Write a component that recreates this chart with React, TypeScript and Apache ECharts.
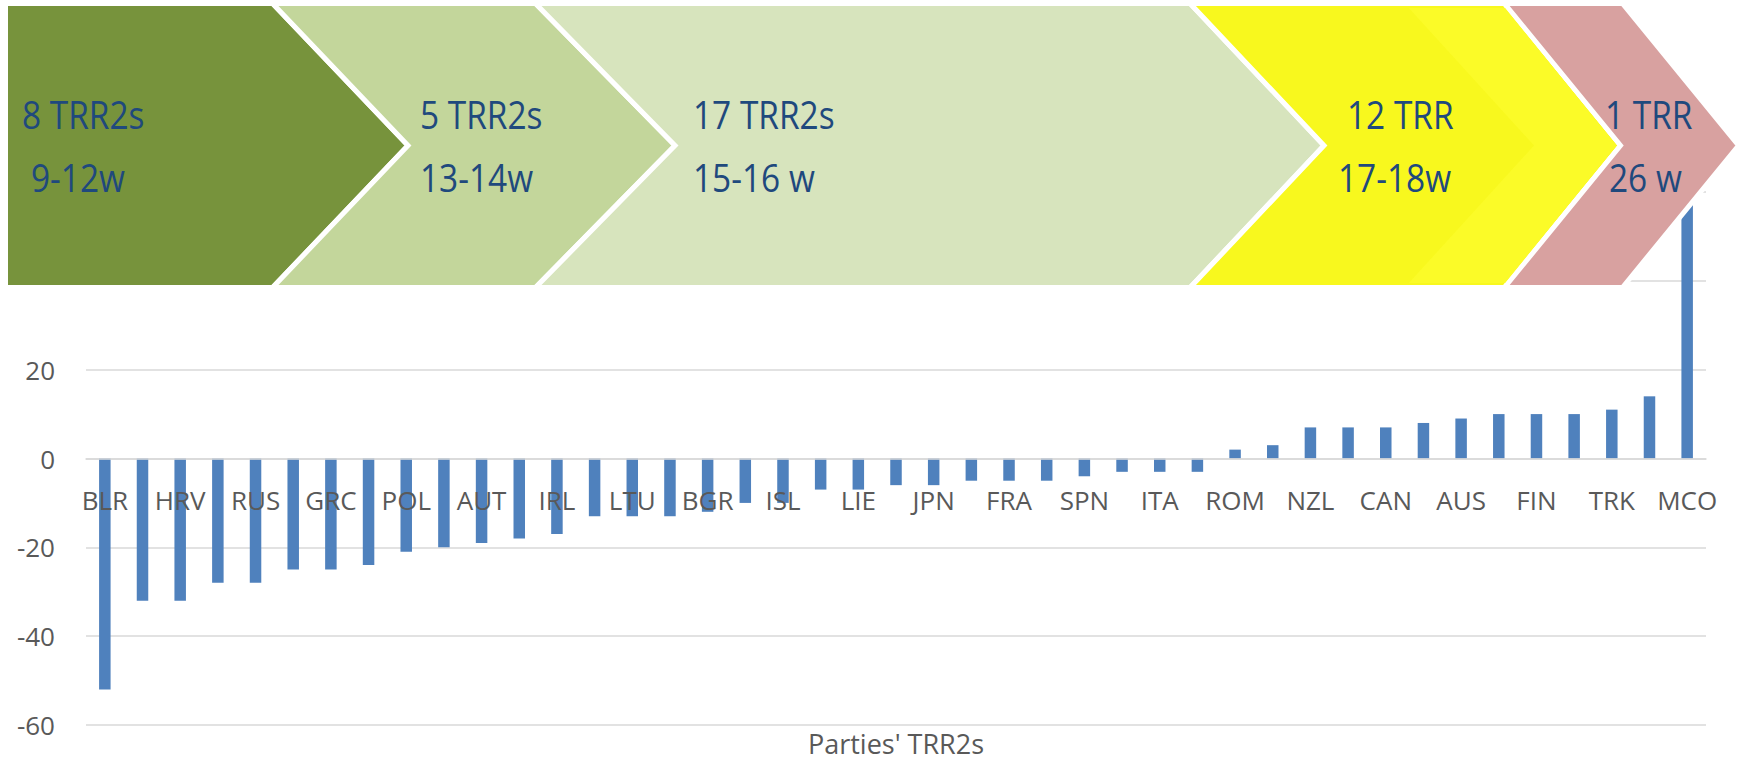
import React, { useEffect, useRef } from "react";
import * as echarts from "echarts";

// ---- data ----
const categories = [
  "BLR", "", "HRV", "", "RUS", "", "GRC", "", "POL", "", "AUT", "", "IRL", "", "LTU", "",
  "BGR", "", "ISL", "", "LIE", "", "JPN", "", "FRA", "", "SPN", "", "ITA", "", "ROM", "",
  "NZL", "", "CAN", "", "AUS", "", "FIN", "", "TRK", "", "MCO",
];
const values = [
  -52, -32, -32, -28, -28, -25, -25, -24, -21, -20, -19, -18, -17, -13, -13, -13,
  -12, -10, -10, -7, -7, -6, -6, -5, -5, -5, -4, -3, -3, -3, 2, 3,
  7, 7, 7, 8, 9, 10, 10, 10, 11, 14, 60,
];
const yMin = -60;
const yMax = 60;
const yStep = 20;
const axisTitle = "Parties' TRR2s";
const stageCounts = ["8 TRR2s", "5 TRR2s", "17 TRR2s", "12 TRR", "1 TRR"];
const stageWeeks = ["9-12w", "13-14w", "15-16 w", "17-18w", "26 w"];

// ---- layout ----
const W = 1741;
const H = 763;
const GRID = { left: 86, right: 35, top: 192, bottom: 38 };
const T = 3.5;
const B = 287.5;
const M = 145.5;
// boundaries: [x at y=6, x at tip]
const bounds: [number, number][] = [
  [275, 408],
  [538, 675],
  [1192.5, 1324],
  [1506.5, 1620.5],
  [1624.5, 1738.5],
];
const stageColors = ["#77933c", "#c3d69b", "#d7e4bd", "#f8f81e", "#d8a1a0"];
const textPos = [
  [22, 31],
  [420, 420],
  [693, 693],
  [1347, 1338],
  [1605, 1609],
];

function bx(b: [number, number], y: number) {
  const [top6, tip] = b;
  return tip - ((tip - top6) * Math.abs(y - M)) / (M - 6);
}

function buildGraphics() {
  const els: any[] = [];
  for (let i = 0; i < 5; i++) {
    const r = bounds[i];
    const pts: number[][] = [];
    if (i === 0) {
      pts.push([5.5, T], [bx(r, T), T], [r[1], M], [bx(r, B), B], [5.5, B]);
    } else {
      const l = bounds[i - 1];
      pts.push([bx(l, T), T], [bx(r, T), T], [r[1], M], [bx(r, B), B], [bx(l, B), B], [l[1], M]);
    }
    els.push({
      type: "polygon",
      z: 100,
      shape: { points: pts },
      style: { fill: stageColors[i], stroke: "#ffffff", lineWidth: 5 },
    });
    if (i === 3) {
      const inner: [number, number] = [1407, 1534];
      const r2 = bounds[3];
      els.push({
        type: "polygon",
        z: 101,
        shape: {
          points: [
            [bx(inner, 8), 8], [bx(r2, 8) - 3, 8], [r2[1] - 4, M],
            [bx(r2, 283) - 3, 283], [bx(inner, 283), 283], [inner[1], M],
          ],
        },
        style: { fill: "#fbfb28" },
      });
    }
  }
  const font = "'Open Sans', sans-serif";
  for (let i = 0; i < 5; i++) {
    const rows: [string, number, number][] = [
      [stageCounts[i], textPos[i][0], 114],
      [stageWeeks[i], textPos[i][1], 177],
    ];
    rows.forEach(([t, x, y]) => {
      els.push({
        type: "text",
        z: 110,
        x,
        y,
        scaleX: 0.88,
        style: {
          text: t,
          fill: "#1f497d",
          fontSize: 38,
          fontFamily: font,
          textVerticalAlign: "middle",
          verticalAlign: "middle",
        },
      });
    });
  }
  els.push({
    type: "text",
    z: 110,
    x: 896,
    y: 743,
    style: {
      text: axisTitle,
      fill: "#595959",
      fontSize: 27,
      fontFamily: "'Open Sans', sans-serif",
      textAlign: "center",
      align: "center",
      textVerticalAlign: "middle",
      verticalAlign: "middle",
    },
  });
  return els;
}

export default function App() {
  const ref = useRef<HTMLDivElement>(null);
  useEffect(() => {
    if (!ref.current) return;
    const chart = echarts.init(ref.current, undefined, { renderer: "svg" });
    const plotH = H - GRID.top - GRID.bottom;
    const zeroOffset = (plotH * (0 - yMin)) / (yMax - yMin);
    chart.setOption({
      animation: false,
      backgroundColor: "#ffffff",
      textStyle: { fontFamily: "'Open Sans', sans-serif" },
      grid: { ...GRID, containLabel: false, outerBoundsMode: "none" },
      xAxis: {
        type: "category",
        data: categories,
        offset: -zeroOffset,
        z: 5,
        axisLine: { show: true, onZero: false, lineStyle: { color: "#d9d9d9", width: 1.5 } },
        axisTick: { show: false },
        axisLabel: {
          interval: 1,
          margin: 28,
          color: "#595959",
          fontSize: 26,
          fontFamily: "'Open Sans', sans-serif",
        },
      },
      yAxis: {
        type: "value",
        min: yMin,
        max: yMax,
        interval: yStep,
        axisLine: { show: false },
        axisTick: { show: false },
        splitLine: { lineStyle: { color: "#d9d9d9", width: 1.5 } },
        axisLabel: {
          margin: 31,
          color: "#595959",
          fontSize: 26,
          fontFamily: "'Open Sans', sans-serif",
          formatter: (v: number) => (v > 20 ? "" : String(v)),
        },
      },
      series: [
        {
          type: "bar",
          data: values,
          barWidth: 11.5,
          itemStyle: { color: "#4f81bd" },
        },
      ],
      graphic: { elements: buildGraphics() },
    });
    return () => chart.dispose();
  }, []);
  return (
    <div
      ref={ref}
      style={{ position: "fixed", left: 0, top: 0, width: W, height: H, background: "#fff" }}
    />
  );
}
